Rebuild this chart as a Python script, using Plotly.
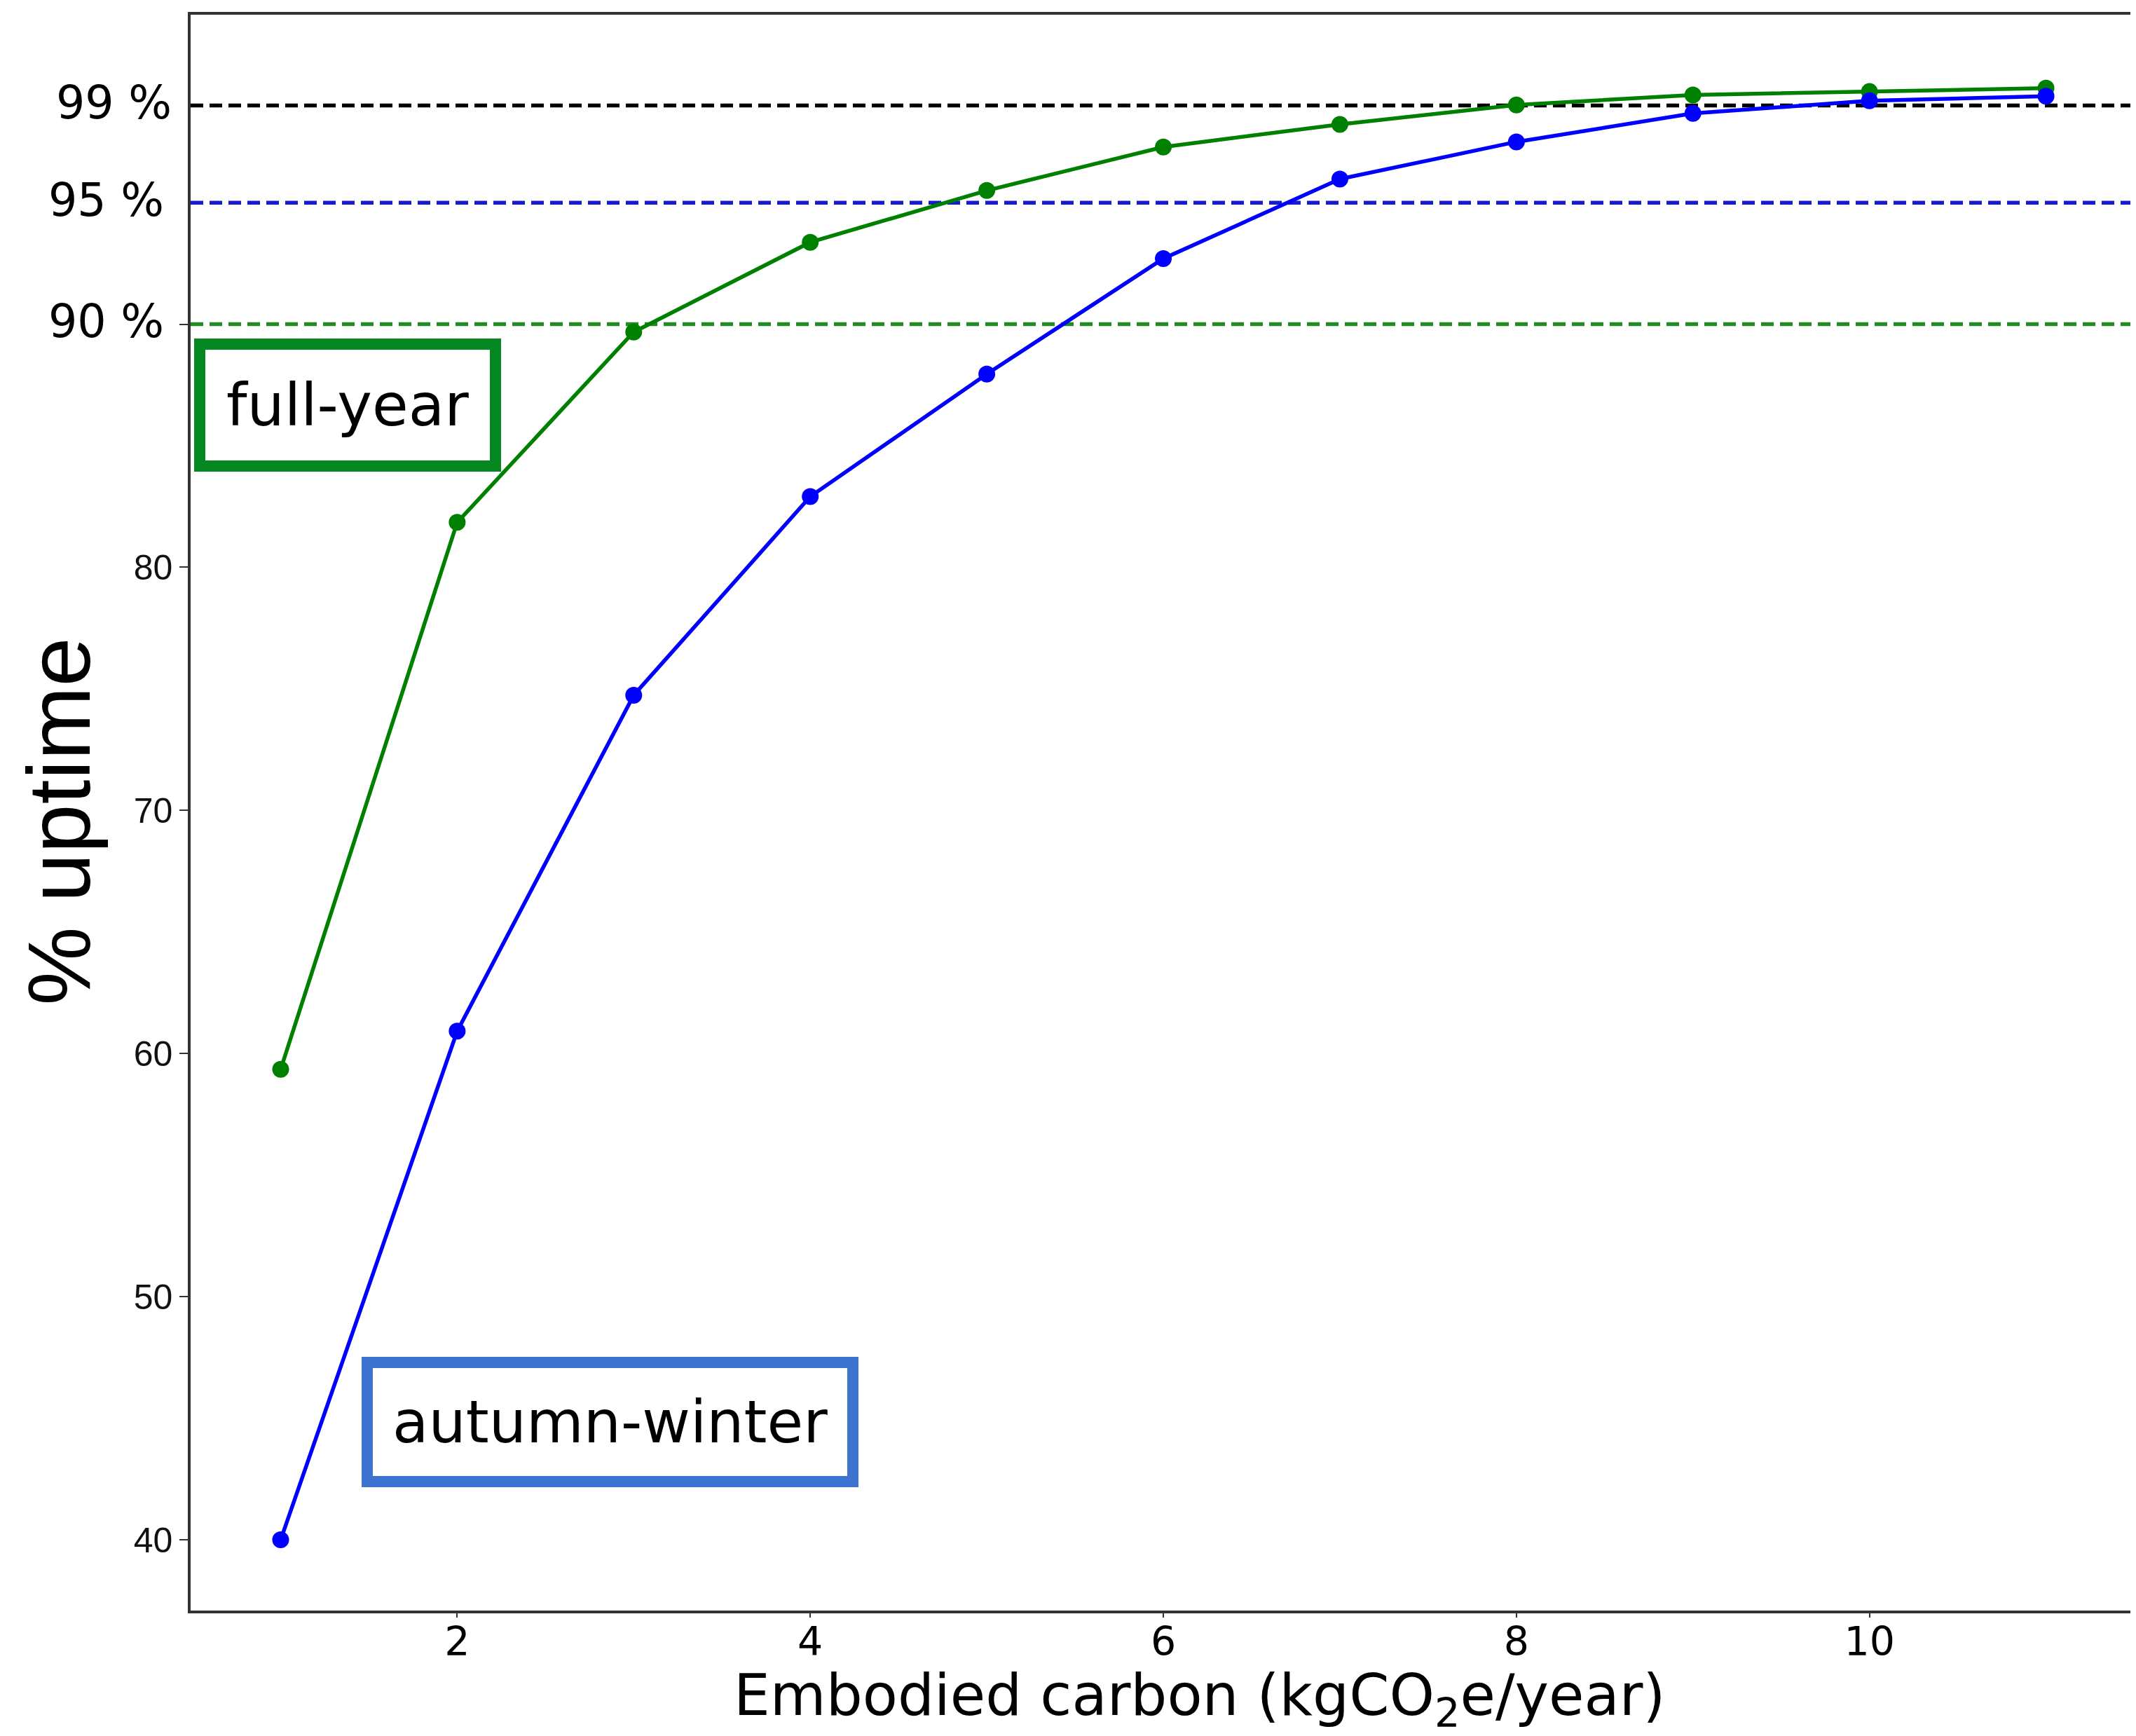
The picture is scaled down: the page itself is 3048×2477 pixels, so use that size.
import plotly.graph_objects as go

# ---- data ----
embodied_carbon = [1, 2, 3, 4, 5, 6, 7, 8, 9, 10, 11]
uptime_full_year = [59.35, 81.85, 89.68, 93.37, 95.5, 97.29, 98.22, 99.02, 99.43, 99.57, 99.71]
uptime_autumn_winter = [40.0, 60.92, 74.74, 82.91, 87.95, 92.7, 95.97, 97.5, 98.67, 99.19, 99.38]

threshold_values = [99, 95, 90]
threshold_labels = ["99 %", "95 %", "90 %"]
threshold_colors = ["#000000", "#1a1acd", "#238b23"]

x_tick_vals = [2, 4, 6, 8, 10]
x_tick_text = ["2", "4", "6", "8", "10"]
y_tick_vals = [40, 50, 60, 70, 80, 90]
y_tick_text = ["40", "50", "60", "70", "80", ""]

series_names = ["full-year", "autumn-winter"]
series_colors = ["#008000", "#0000ff"]
box_colors = ["#05881f", "#3d74d1"]

W, H = 3048, 2477
fig = go.Figure()

for name, ys, col in zip(series_names, [uptime_full_year, uptime_autumn_winter], series_colors):
    fig.add_trace(go.Scatter(
        x=embodied_carbon, y=ys, mode="lines+markers", name=name,
        line=dict(color=col, width=5.5),
        marker=dict(color=col, size=24),
        showlegend=False,
    ))

# threshold dashed lines
for v, c in zip(threshold_values, threshold_colors):
    fig.add_shape(type="line", xref="paper", x0=0, x1=1, yref="y", y0=v, y1=v,
                  line=dict(color=c, width=5.5, dash="18px,9px"), layer="below")

annotations = []
label_x = [-0.009, -0.013, -0.013]
for v, lab, lx in zip(threshold_values, threshold_labels, label_x):
    annotations.append(dict(
        x=lx, xref="paper", y=v, yref="y", text=lab, showarrow=False,
        xanchor="right", yanchor="middle", yshift=4,
        font=dict(family="DejaVu Sans", size=65, color="black"),
    ))

# labelled boxes
box_pos = [(0.0807, 0.7555), (0.2159, 0.118)]
box_pads = [30, 28]
for name, bc, (bx, by), pad in zip(series_names, box_colors, box_pos, box_pads):
    annotations.append(dict(
        x=bx, xref="paper", y=by, yref="paper", text=name, showarrow=False,
        xanchor="center", yanchor="middle",
        font=dict(family="DejaVu Sans", size=84, color="black"),
        bgcolor="white", bordercolor=bc, borderwidth=16, borderpad=pad,
    ))

# axis titles
annotations.append(dict(
    x=-0.068, xref="paper", y=0.4945, yref="paper", text="% uptime", showarrow=False,
    textangle=-90, xanchor="center", yanchor="middle",
    font=dict(family="Liberation Sans", size=126, color="black"),
))
annotations.append(dict(
    x=0.5196, xref="paper", y=-0.0556, yref="paper",
    text="Embodied carbon (kgCO<sub>2</sub>e/year)", showarrow=False,
    xanchor="center", yanchor="middle",
    font=dict(family="DejaVu Sans", size=82, color="black"),
))

fig.update_layout(
    width=W, height=H,
    margin=dict(l=264, r=9, t=9, b=187),
    paper_bgcolor="white", plot_bgcolor="white",
    annotations=annotations,
    xaxis=dict(
        range=[0.49, 11.49], tickvals=x_tick_vals, ticktext=x_tick_text,
        showgrid=False, zeroline=False, showline=True, mirror=True,
        linecolor="#333333", linewidth=3.5, ticks="outside", ticklen=6, tickwidth=2,
        tickcolor="#333333", ticklabelstandoff=-14,
        tickfont=dict(family="DejaVu Sans", size=57, color="black"),
    ),
    yaxis=dict(
        range=[37.09, 102.73], tickvals=y_tick_vals, ticktext=y_tick_text,
        showgrid=False, zeroline=False, showline=True, mirror=True,
        linecolor="#333333", linewidth=3.5, ticks="outside", ticklen=12, tickwidth=2,
        tickcolor="#333333",
        tickfont=dict(family="Liberation Sans", size=50, color="#111111"),
    ),
)

fig.write_html("out.html")
